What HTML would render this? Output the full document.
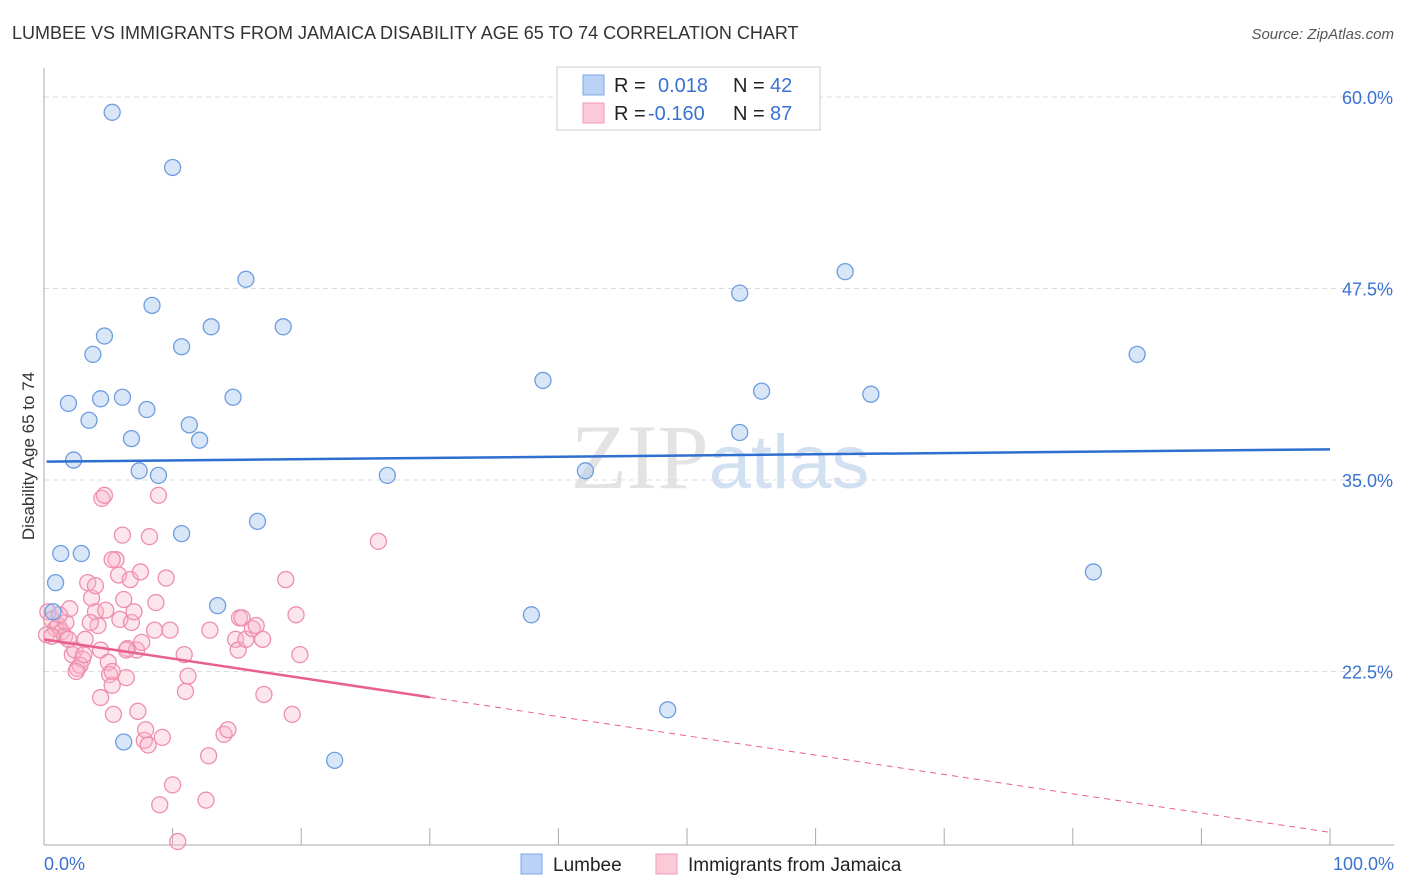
<!DOCTYPE html>
<html><head><meta charset="utf-8"><style>
body{margin:0;background:#fff;font-family:"Liberation Sans",sans-serif}
svg{display:block}
</style></head><body>
<svg id="chart" width="1406" height="892" xmlns="http://www.w3.org/2000/svg">
<text x="12" y="39" font-size="18" fill="#333">LUMBEE VS IMMIGRANTS FROM JAMAICA DISABILITY AGE 65 TO 74 CORRELATION CHART</text>
<text x="1394" y="39" font-size="15" fill="#555" text-anchor="end" font-style="italic">Source: ZipAtlas.com</text>
<text x="720" y="488" font-size="92" text-anchor="middle" font-family="Liberation Serif" fill="#ddd" opacity="0.8">ZIP<tspan font-family="Liberation Sans" fill="#c8daf0" font-size="76">atlas</tspan></text>
<g id="grid"></g>
<g id="axes"></g>
<g id="pts"></g>
<g id="lines"></g>
<text transform="translate(34,456) rotate(-90)" font-size="17" fill="#333" text-anchor="middle">Disability Age 65 to 74</text>
<g>
<rect x="557" y="67" width="263" height="63" fill="#fff" stroke="#ccc"/>
<rect x="583" y="75" width="21" height="20" fill="#b9d2f5" stroke="#7aa7e8"/>
<rect x="583" y="103" width="21" height="20" fill="#fbc9d8" stroke="#f09ab5"/>
<text x="614" y="92" font-size="20" fill="#222">R =</text>
<text x="658" y="92" font-size="20" fill="#3a72d0">0.018</text>
<text x="733" y="92" font-size="20" fill="#222">N =</text>
<text x="770" y="92" font-size="20" fill="#3a72d0">42</text>
<text x="614" y="120" font-size="20" fill="#222">R =</text>
<text x="648" y="120" font-size="20" fill="#3a72d0">-0.160</text>
<text x="733" y="120" font-size="20" fill="#222">N =</text>
<text x="770" y="120" font-size="20" fill="#3a72d0">87</text>
</g>
<g>
<rect x="521" y="854" width="21" height="20" fill="#b9d2f5" stroke="#7aa7e8"/>
<text x="553" y="871" font-size="19" fill="#222">Lumbee</text>
<rect x="656" y="854" width="21" height="20" fill="#fbc9d8" stroke="#f09ab5"/>
<text x="688" y="871" font-size="19" fill="#222">Immigrants from Jamaica</text>
</g>
</svg>
<script>
const yTicks=[60,47.5,35,22.5];
const yTickLabels=["60.0%","47.5%","35.0%","22.5%"];
const xTickLabels=["0.0%","100.0%"];
const lumbeeX=[5.3,10.0,15.7,8.4,13.0,4.7,18.6,10.7,3.8,38.8,54.1,62.3,85.0,55.8,64.3,1.9,4.4,6.1,8.0,14.7,3.5,11.3,6.8,12.1,54.1,2.3,7.4,8.9,26.7,42.1,10.7,16.6,1.3,2.9,0.9,81.6,13.5,37.9,0.7,48.5,6.2,22.6];
const lumbeeY=[59.0,55.4,48.1,46.4,45.0,44.4,45.0,43.7,43.2,41.5,47.2,48.6,43.2,40.8,40.6,40.0,40.3,40.4,39.6,40.4,38.9,38.6,37.7,37.6,38.1,36.3,35.6,35.3,35.3,35.6,31.5,32.3,30.2,30.2,28.3,29.0,26.8,26.2,26.4,20.0,17.9,16.7];
const jamX=[0.3,0.6,0.9,0.2,1.1,1.4,1.7,2.0,1.6,2.2,2.6,2.4,3.0,3.2,3.4,3.7,4.0,4.2,4.4,4.5,4.7,4.8,5.0,5.1,5.3,5.4,5.6,5.8,5.9,6.1,6.2,6.4,6.5,6.7,6.8,7.0,7.2,7.3,7.5,7.6,7.8,7.9,8.1,8.2,8.6,8.7,8.9,9.0,9.2,9.5,9.8,10.0,10.4,10.9,11.0,11.2,12.6,12.8,12.9,14.0,14.3,14.9,15.1,15.2,15.4,15.7,16.2,16.5,17.0,17.1,18.8,19.3,19.6,19.9,26.0,4.4,3.6,1.2,0.6,1.9,2.8,4.0,5.3,6.4,3.1,2.5,5.3];
const jamY=[26.4,25.9,25.3,24.9,25.5,25.1,25.7,26.6,24.8,23.6,22.7,23.9,23.3,24.6,28.3,27.3,26.4,25.5,23.9,33.8,34.0,26.5,23.1,22.3,21.6,19.7,29.8,28.8,25.9,31.4,27.2,22.1,24.0,28.5,25.7,26.4,23.9,19.9,29.0,24.4,18.0,18.7,17.7,31.3,25.2,27.0,34.0,13.8,18.2,28.6,25.2,15.1,11.4,23.6,21.2,22.2,14.1,17.0,25.2,18.4,18.7,24.6,23.9,26.0,26.0,24.6,25.3,25.5,24.6,21.0,28.5,19.7,26.2,23.6,31.0,20.8,25.7,26.2,24.8,24.6,22.9,28.1,29.8,23.9,23.6,22.5,22.5];
const blueTrend=[36.2,37.0];
const pinkTrend=[24.6,12.0];
const ns="http://www.w3.org/2000/svg";
const X=v=>44+v*12.86, Y=v=>97+(60-v)*15.32;
function mk(t,a,p){const e=document.createElementNS(ns,t);for(const k in a)e.setAttribute(k,a[k]);document.getElementById(p).appendChild(e);return e;}
yTicks.forEach((t,i)=>{
 const g=mk('line',{x1:44,x2:1394,y1:Y(t),y2:Y(t),stroke:'#ddd','stroke-dasharray':'5,4'},'grid');
 
 
 const l=mk('text',{x:1393,y:Y(t)+7,'font-size':18,fill:'#3a72d0','text-anchor':'end'},'axes');l.textContent=yTickLabels[i];
 
 
});
const ax=mk('line',{x1:44,x2:1394,y1:845,y2:845,stroke:'#aaa'},'axes');


const ay=mk('line',{x1:44,x2:44,y1:68,y2:845,stroke:'#aaa'},'axes');


for(let i=1;i<=10;i++){const t=mk('line',{x1:X(i*10),x2:X(i*10),y1:828,y2:845,stroke:'#aaa'},'axes');
 
 }
[[0,'start',44],[1,'end',1394]].forEach(([i,a,x])=>{const t=mk('text',{x:x,y:870,'font-size':18,fill:'#3a72d0','text-anchor':a},'axes');t.textContent=xTickLabels[i];
 
 });
jamX.forEach((v,i)=>{const c=mk('circle',{cx:X(v),cy:Y(jamY[i]),r:8,fill:'rgba(248,180,200,0.35)',stroke:'#ee8fae','stroke-width':1.3},'pts');
 
 });
lumbeeX.forEach((v,i)=>{const c=mk('circle',{cx:X(v),cy:Y(lumbeeY[i]),r:8,fill:'rgba(170,200,240,0.45)',stroke:'#6d9de0','stroke-width':1.3},'pts');
 
 });
const bl=mk('line',{x1:X(0.2),y1:Y(blueTrend[0]),x2:X(100),y2:Y(blueTrend[1]),stroke:'#2f6fd0','stroke-width':2.5},'lines');


const py=x=>pinkTrend[0]+(pinkTrend[1]-pinkTrend[0])*x/100;
const ps=mk('line',{x1:X(0),y1:Y(py(0)),x2:X(30),y2:Y(py(30)),stroke:'#e8608c','stroke-width':2.5},'lines');


const pd=mk('line',{x1:X(30),y1:Y(py(30)),x2:X(100),y2:Y(py(100)),stroke:'#e8608c','stroke-width':1,'stroke-dasharray':'6,5'},'lines');


</script>
</body></html>
